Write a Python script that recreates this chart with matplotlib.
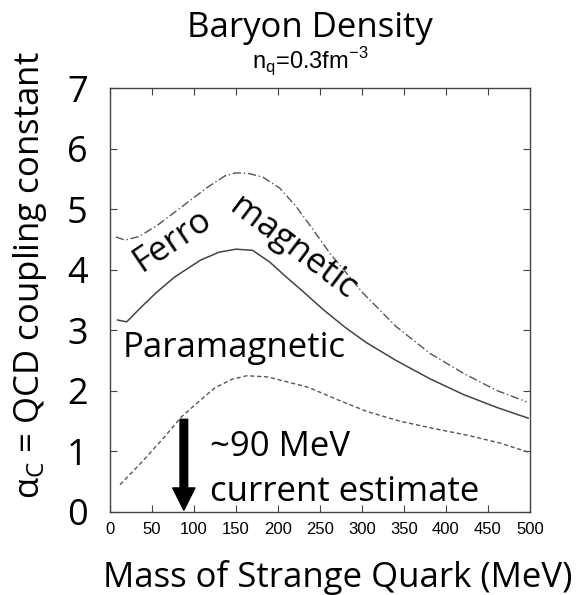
import numpy as np
import matplotlib
matplotlib.use('Agg')
import matplotlib.pyplot as plt

# curves (x = strange quark mass in MeV, y = alpha_c)
ferro_x = [7, 18, 35, 57, 80, 96, 117, 137, 150, 165, 182, 202, 222, 242, 262, 282, 301, 341, 381, 421, 460, 496]
ferro_y = [4.54, 4.49, 4.55, 4.74, 4.98, 5.15, 5.37, 5.55, 5.60, 5.59, 5.53, 5.35, 5.04, 4.66, 4.27, 3.94, 3.62, 3.06, 2.62, 2.29, 2.01, 1.82]

para_x = [9, 20, 37, 55, 77, 108, 130, 150, 170, 190, 210, 230, 255, 280, 305, 341, 381, 421, 460, 498]
para_y = [3.17, 3.14, 3.38, 3.62, 3.88, 4.16, 4.29, 4.34, 4.32, 4.13, 3.88, 3.64, 3.33, 3.05, 2.80, 2.50, 2.20, 1.94, 1.73, 1.55]

low_x = [12, 37, 65, 85, 108, 125, 145, 163, 188, 236, 270, 306, 345, 385, 425, 464, 498]
low_y = [0.45, 0.81, 1.24, 1.57, 1.85, 2.05, 2.19, 2.25, 2.23, 2.06, 1.86, 1.66, 1.50, 1.38, 1.27, 1.14, 0.99]

x_ticks = [0, 50, 100, 150, 200, 250, 300, 350, 400, 450, 500]
y_ticks = [0, 1, 2, 3, 4, 5, 6, 7]
estimate_mass = 88

big = 'Open Sans'
small = 'Liberation Sans'
fs = 25

fig = plt.figure(figsize=(5.88, 5.95), dpi=100)
ax = fig.add_axes([0.187, 0.1395, 0.714, 0.7125])

ax.plot(ferro_x, ferro_y, color='#555555', lw=1.0, ls=(0, (6, 2, 1, 2)))
ax.plot(para_x, para_y, color='#444444', lw=1.1)
ax.plot(low_x, low_y, color='#555555', lw=1.0, ls=(0, (3, 2)))

ax.annotate('', xy=(estimate_mass, 0.03), xytext=(estimate_mass, 1.53),
            arrowprops=dict(facecolor='black', edgecolor='black', width=5.5,
                            headwidth=16, headlength=16, shrink=0))

ax.text(15, 2.7, 'Paramagnetic', family=big, fontsize=fs, ha='left', va='center')
ax.text(74, 4.49, 'Ferro', family=big, fontsize=fs, ha='center', va='center',
        rotation=34, rotation_mode='anchor')
ax.text(218, 4.36, 'magnetic', family=big, fontsize=fs, ha='center', va='center',
        rotation=-37, rotation_mode='anchor')
ax.text(119, 1.07, '~90 MeV', family=big, fontsize=fs, ha='left', va='center')
ax.text(119, 0.33, 'current estimate', family=big, fontsize=fs, ha='left', va='center')

ax.set_xlim(0, 500)
ax.set_ylim(0, 7)
ax.set_xticks(x_ticks)
ax.set_yticks(y_ticks)
ax.set_xticklabels([str(v) for v in x_ticks], family=small, fontsize=12)
ax.set_yticklabels([str(v) for v in y_ticks], family=big, fontsize=26)
ax.tick_params(direction='in', length=5, width=0.8, top=True, right=True, color='#444444')
ax.tick_params(axis='x', pad=7)
ax.tick_params(axis='y', pad=16)
for s in ax.spines.values():
    s.set_color('#444444')
    s.set_linewidth(1.0)

fig.text(0.527, 0.953, 'Baryon Density', family=big, fontsize=fs, ha='center', va='center')
fig.text(0.527, 0.896, r'n$_\mathregular{q}$=0.3fm$^\mathregular{-3}$', family=small,
         fontsize=17, ha='center', va='center')
fig.text(0.575, 0.029, 'Mass of Strange Quark (MeV)', family=big, fontsize=fs,
         ha='center', va='center')
fig.text(0.051, 0.538, r'$\mathregular{\alpha_C}$ = QCD coupling constant', family=big,
         fontsize=fs, ha='center', va='center', rotation=90)

fig.savefig('out.png', dpi=100)
